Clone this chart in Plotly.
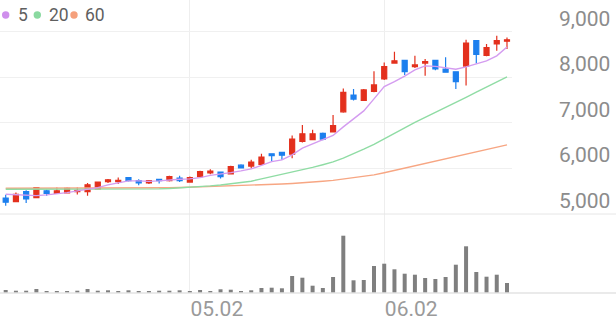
import plotly.graph_objects as go

dates = ["2025-04-07","2025-04-08","2025-04-09","2025-04-10","2025-04-11",
         "2025-04-14","2025-04-15","2025-04-16","2025-04-17","2025-04-18",
         "2025-04-21","2025-04-22","2025-04-23","2025-04-24","2025-04-25",
         "2025-04-28","2025-04-29","2025-04-30","2025-05-02","2025-05-07",
         "2025-05-08","2025-05-09","2025-05-12","2025-05-13","2025-05-14",
         "2025-05-15","2025-05-16","2025-05-19","2025-05-20","2025-05-21",
         "2025-05-22","2025-05-23","2025-05-26","2025-05-27","2025-05-28",
         "2025-05-29","2025-05-30","2025-06-02","2025-06-04","2025-06-05",
         "2025-06-09","2025-06-10","2025-06-11","2025-06-12","2025-06-13",
         "2025-06-16","2025-06-17","2025-06-18","2025-06-19","2025-06-20"]

open_ = [5350,5270,5490,5360,5510,5450,5460,5490,5490,5550,
         5710,5710,5800,5730,5680,5760,5730,5790,5700,5820,
         5900,5920,5880,6070,6050,6090,6320,6350,6310,6590,
         6630,6770,6800,7240,7610,7490,7690,7960,8310,8370,
         8230,8310,8370,8180,8120,8240,8800,8480,8730,8790]
high = [5420,5470,5520,5590,5530,5580,5580,5580,5680,5710,
        5770,5800,5810,5760,5740,5760,5840,5840,5820,5950,
        5980,5920,6060,6090,6190,6320,6320,6360,6720,6950,
        6850,6790,7170,7750,7740,7740,8130,8320,8560,8370,
        8470,8400,8380,8440,8120,8820,8800,8730,8910,8870]
low = [5180,5260,5240,5350,5400,5450,5450,5430,5400,5550,
       5680,5660,5710,5630,5660,5670,5710,5700,5690,5820,
       5870,5780,5870,6010,6000,6070,6160,6190,6220,6570,
       6620,6620,6800,7220,7490,7490,7670,7940,8300,8050,
       8200,8030,8150,8110,7740,7820,8300,8460,8580,8620]
close = [5260,5430,5330,5580,5450,5510,5560,5520,5640,5700,
         5750,5740,5730,5680,5730,5730,5820,5730,5800,5930,
         5940,5820,6040,6010,6140,6250,6280,6290,6640,6760,
         6760,6640,6940,7670,7520,7720,7830,8230,8360,8120,
         8270,8340,8180,8110,7900,8750,8500,8650,8800,8820]

ma5 = [5434,5419,5403,5403,5419,5441,5469,5507,5539,5579,
       5638,5682,5726,5726,5715,5726,5748,5763,5770,5798,
       5846,5873,5908,5945,5990,6066,6149,6186,6296,6443,
       6537,6614,6723,6910,7085,7261,7524,7794,7903,8022,
       8160,8248,8237,8204,8175,8226,8296,8357,8467,8664]
ma20 = [5544,5544,5541,5541,5539,5539,5539,5539,5539,5539,
        5539,5539,5539,5541,5546,5550,5559,5570,5583,5599,
        5616,5636,5660,5686,5719,5770,5818,5868,5919,5971,
        6024,6081,6142,6226,6318,6421,6526,6642,6767,6888,
        7009,7118,7217,7322,7432,7557,7671,7783,7897,8006]
ma60 = [5566,5566,5566,5566,5566,5566,5566,5565,5565,5564,
        5563,5564,5566,5567,5569,5572,5576,5581,5587,5593,
        5599,5606,5613,5620,5629,5638,5647,5658,5670,5682,
        5700,5718,5737,5764,5791,5824,5857,5905,5956,6005,
        6055,6104,6153,6203,6252,6307,6362,6411,6460,6515]

volume = [300000,230000,230000,400000,200000,200000,170000,230000,400000,230000,
          270000,200000,270000,200000,200000,230000,230000,270000,200000,300000,
          200000,370000,330000,200000,270000,500000,530000,470000,1700000,1530000,
          730000,500000,1600000,5730000,1270000,1300000,2700000,2930000,2370000,1930000,
          1830000,1500000,1400000,1600000,2830000,4670000,2100000,1630000,1830000,1000000]

x_tick_vals = ["2025-05-02", "2025-06-02"]
x_tick_text = ["05.02", "06.02"]
y_tick_vals = [5000, 6000, 7000, 8000, 9000]
y_tick_text = ["5,000", "6,000", "7,000", "8,000", "9,000"]

ma_names = ["5", "20", "60"]
ma_colors = ["#d49cf0", "#8fdca4", "#f7a683"]
dot_colors = ["#cf8fec", "#8ad9a0", "#f5a07c"]

RED = "#e3301d"
BLUE = "#1c7fee"

W, H = 616, 321
PLOT_W = 512
PLOT_H = 293
SPLIT = 214  # pixel y of price/volume boundary

fig = go.Figure()

for vals, color, name in zip([ma60, ma20, ma5], ma_colors[::-1], ma_names[::-1]):
    fig.add_trace(go.Scatter(x=dates, y=vals, mode="lines", name=name,
                             line=dict(color=color, width=1.4),
                             xaxis="x", yaxis="y", showlegend=False,
                             hoverinfo="skip"))

fig.add_trace(go.Candlestick(
    x=dates, open=open_, high=high, low=low, close=close,
    increasing=dict(line=dict(color=RED, width=1.2), fillcolor=RED),
    decreasing=dict(line=dict(color=BLUE, width=1.2), fillcolor=BLUE),
    whiskerwidth=0, xaxis="x", yaxis="y", showlegend=False))

fig.add_trace(go.Bar(x=dates, y=volume, marker=dict(color="#7f7f7f", line=dict(width=0)),
                     width=0.39, xaxis="x2", yaxis="y2", showlegend=False))

split_frac = (PLOT_H - SPLIT) / PLOT_H
px_per_1000 = 45.6
price_top = 5000 + SPLIT / px_per_1000 * 1000
vol_top = (PLOT_H - SPLIT) / 10 * 1e6

xr = [-0.557, 49.49]
common_x = dict(type="category", range=xr, tickvals=x_tick_vals, showgrid=True,
                gridcolor="#eeeeee", gridwidth=1, zeroline=False, showline=False,
                ticks="", fixedrange=True, automargin=False)

fig.update_layout(
    width=W, height=H,
    margin=dict(l=0, r=W - PLOT_W, t=0, b=H - PLOT_H, autoexpand=False),
    paper_bgcolor="white", plot_bgcolor="white",
    showlegend=False,
    xaxis=dict(common_x, domain=[0, 1], anchor="y", showticklabels=False,
               rangeslider=dict(visible=False)),
    xaxis2=dict(common_x, domain=[0, 1], anchor="y2", matches="x",
                ticktext=x_tick_text, showticklabels=True,
                tickfont=dict(family="Roboto", size=21, color="#9a9a9a"),
                ticklabelshift=27, ticklabelstandoff=1),
    yaxis=dict(domain=[split_frac, 1], range=[5000, price_top], tickvals=y_tick_vals,
               showgrid=True, gridcolor="#f0f0f0", gridwidth=1, zeroline=False,
               showticklabels=False, ticks="", fixedrange=True, automargin=False),
    yaxis2=dict(domain=[0, split_frac], range=[0, vol_top], showgrid=False,
                zeroline=False, showticklabels=False, ticks="", fixedrange=True,
                automargin=False),
    boxgap=0.3,
)

# y-axis labels placed above gridlines
for v, t in zip(y_tick_vals, y_tick_text):
    fig.add_annotation(x=612 / PLOT_W, xref="paper", xanchor="right",
                       y=v, yref="y", yanchor="bottom", yshift=-1,
                       text=t, showarrow=False,
                       font=dict(family="Roboto", size=21, color="#8c8c8c"))

# separator lines spanning full width
fig.add_shape(type="line", xref="paper", yref="paper", x0=0, x1=W / PLOT_W,
              y0=split_frac, y1=split_frac, line=dict(color="#e6e6e6", width=1))
fig.add_shape(type="line", xref="paper", yref="paper", x0=0, x1=W / PLOT_W,
              y0=0, y1=0, line=dict(color="#e3e3e3", width=1.5))

# legend: dots + labels
dot_x = [5.7, 37.3, 74.0]
txt_x = [15.5, 46.5, 82.5]
ly = 1 - 15 / PLOT_H
for name, dc, dx, tx in zip(ma_names, dot_colors, dot_x, txt_x):
    fig.add_shape(type="circle", xref="paper", yref="paper",
                  xsizemode="pixel", ysizemode="pixel",
                  xanchor=dx / PLOT_W, yanchor=ly,
                  x0=-3.7, x1=3.7, y0=-3.7, y1=3.7,
                  fillcolor=dc, line=dict(width=0))
    fig.add_annotation(x=tx / PLOT_W, xref="paper", xanchor="left",
                       y=ly, yref="paper", yanchor="middle",
                       text=name, showarrow=False,
                       font=dict(family="Roboto", size=17.5, color="#5f5f5f"))

fig.write_html("out.html")
